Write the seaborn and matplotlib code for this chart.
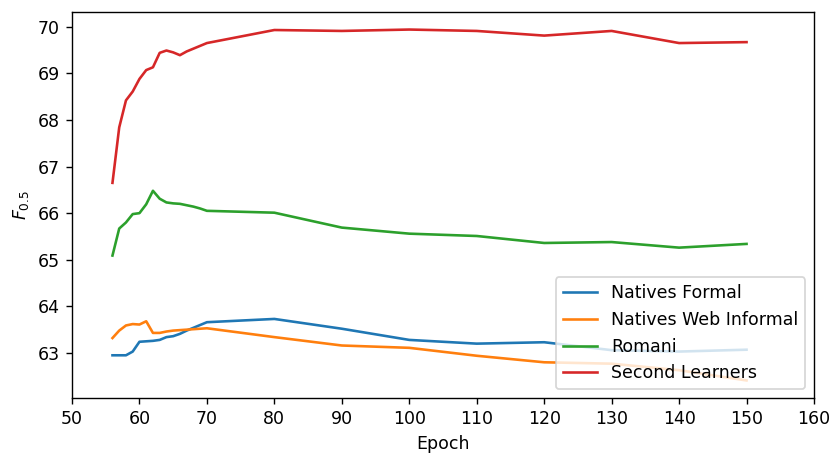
import matplotlib
matplotlib.use("Agg")
import matplotlib.pyplot as plt
import seaborn as sns
import pandas as pd

epochs = [56, 57, 58, 59, 60, 61, 62, 63, 64, 65, 66, 67, 68, 69, 70,
          80, 90, 100, 110, 120, 130, 140, 150]

natives_formal = [62.95, 62.95, 62.95, 63.03, 63.24, 63.25, 63.26, 63.28, 63.34, 63.36, 63.41,
                  63.48, 63.54, 63.60, 63.66, 63.73, 63.52, 63.28, 63.20, 63.23, 63.06, 63.03, 63.07]
natives_web_informal = [63.32, 63.48, 63.59, 63.62, 63.61, 63.68, 63.43, 63.43, 63.46, 63.48, 63.49,
                        63.50, 63.51, 63.52, 63.53, 63.34, 63.16, 63.11, 62.94, 62.80, 62.77, 62.63, 62.41]
romani = [65.09, 65.67, 65.80, 65.98, 66.00, 66.19, 66.48, 66.31, 66.23, 66.21, 66.20,
          66.17, 66.14, 66.10, 66.05, 66.01, 65.69, 65.56, 65.51, 65.36, 65.38, 65.26, 65.34]
second_learners = [66.65, 67.84, 68.42, 68.61, 68.88, 69.07, 69.13, 69.44, 69.49, 69.45, 69.39,
                   69.47, 69.53, 69.59, 69.65, 69.93, 69.91, 69.94, 69.91, 69.81, 69.91, 69.65, 69.67]

series_names = ["Natives Formal", "Natives Web Informal", "Romani", "Second Learners"]
x_ticks = [50, 60, 70, 80, 90, 100, 110, 120, 130, 140, 150, 160]

rows = []
for name, vals in zip(series_names, [natives_formal, natives_web_informal, romani, second_learners]):
    for e, v in zip(epochs, vals):
        rows.append({"Epoch": e, "F": v, "Group": name})
df = pd.DataFrame(rows)

DPI = 125
fig = plt.figure(figsize=(834 / DPI, 453 / DPI), dpi=DPI)
ax = fig.add_axes([72 / 834, 1 - 398 / 453, (814 - 72) / 834, (398 - 12) / 453])

sns.lineplot(data=df, x="Epoch", y="F", hue="Group", hue_order=series_names,
             palette=["#1f77b4", "#ff7f0e", "#2ca02c", "#d62728"], ax=ax, linewidth=1.5)

ax.set_xlim(50, 160)
ax.set_xticks(x_ticks)
ax.set_xlabel("Epoch")
ax.set_ylabel(r"$F_{0.5}$")
handles, labels = ax.get_legend_handles_labels()
ax.legend(handles, labels, loc="lower right")

fig.savefig("out.png", dpi=DPI)
